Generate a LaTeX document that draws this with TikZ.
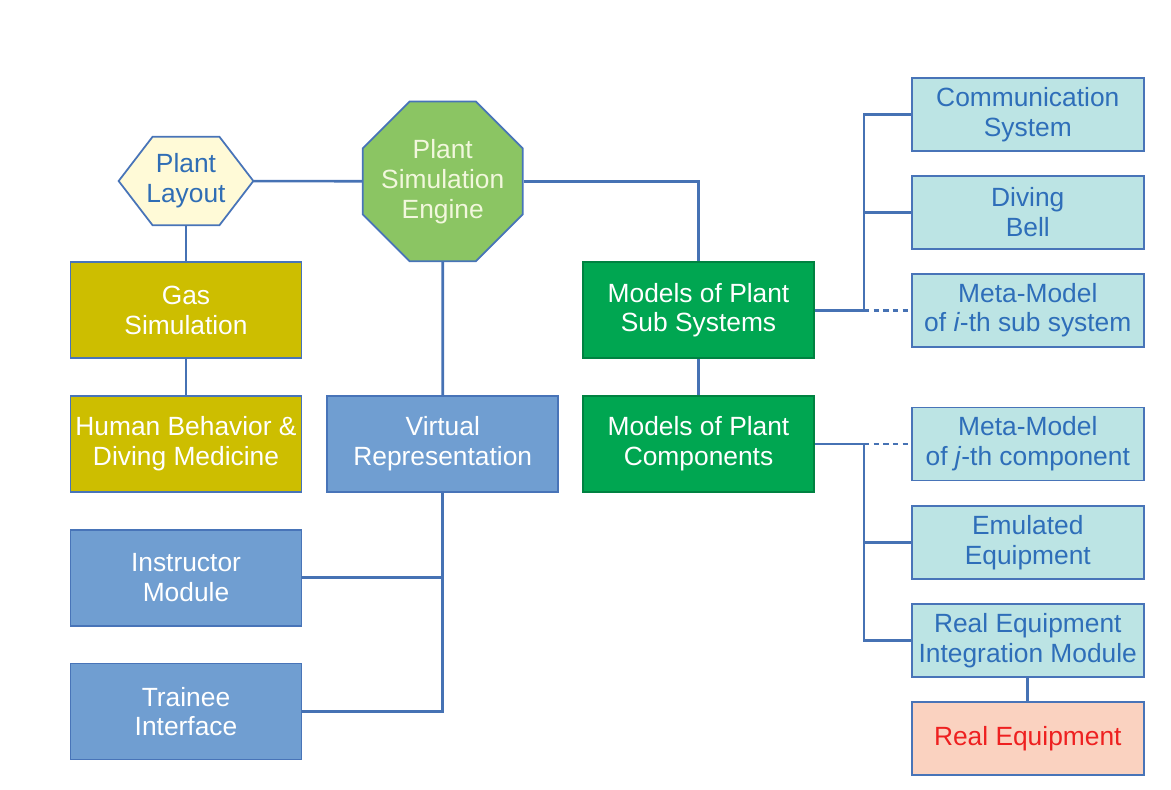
\documentclass[tikz,border=0pt]{standalone}
\usepackage{fontspec}
\setmainfont{Liberation Sans}
\usepackage{tikz}
\usetikzlibrary{positioning,shapes.geometric,calc,backgrounds}
\usepackage{xcolor}
\definecolor{linkblue}{RGB}{70,114,180}
\definecolor{rimblue}{RGB}{72,116,184}
\definecolor{hexfill}{RGB}{255,250,215}
\definecolor{hextext}{RGB}{47,109,181}
\definecolor{engfill}{RGB}{139,197,99}
\definecolor{engtext}{RGB}{242,247,221}
\definecolor{olive}{RGB}{205,190,0}
\definecolor{deepgreen}{RGB}{0,166,81}
\definecolor{deeprim}{RGB}{0,130,65}
\definecolor{boxblue}{RGB}{112,158,209}
\definecolor{cyanfill}{RGB}{188,228,228}
\definecolor{cyantext}{RGB}{46,110,185}
\definecolor{realfill}{RGB}{250,210,192}
\definecolor{realtext}{RGB}{238,32,32}

\begin{document}
\begin{tikzpicture}[
    node distance=0.72cm and 0.48cm,
    txt/.style={font=\fontsize{15}{17}\selectfont, align=center, inner sep=0pt},
    bigbox/.style={txt, draw=rimblue, line width=1pt, text=white,
                   minimum width=4.62cm, minimum height=1.92cm},
    smallbox/.style={txt, draw=rimblue, line width=1pt, fill=cyanfill, text=cyantext,
                     minimum width=4.64cm, minimum height=1.46cm},
    hexrim/.style={draw=rimblue, line width=1pt, fill=hexfill},
    link/.style={draw=linkblue, line width=1.5pt},
    metalink/.style={link, dashed, dash pattern=on 3pt off 2.5pt}
  ]
  \useasboundingbox (0,0) rectangle (23.42,-15.78);

  %% Left column
  \node (layout) [txt, text=hextext, minimum width=2.68cm, minimum height=1.76cm]
        at (3.72,-3.62) {Plant\\Layout};
  \begin{scope}[on background layer]
    \draw[hexrim] (layout.west) -- ([xshift=0.68cm]layout.north west)
        -- ([xshift=-0.68cm]layout.north east) -- (layout.east)
        -- ([xshift=-0.68cm]layout.south east) -- ([xshift=0.68cm]layout.south west) -- cycle;
  \end{scope}
  \node (gas)        [bigbox, fill=olive, below=of layout] {Gas\\Simulation};
  \node (human)      [bigbox, fill=olive, below=of gas] {Human Behavior \&\\Diving Medicine};
  \node (instructor) [bigbox, fill=boxblue, below=of human] {Instructor\\Module};
  \node (trainee)    [bigbox, fill=boxblue, below=of instructor] {Trainee\\Interface};

  %% Middle column
  \node (virtual) [bigbox, fill=boxblue, right=of human] {Virtual\\Representation};
  \node (engine)  [txt, regular polygon, regular polygon sides=8, minimum size=3.46cm,
                   inner sep=-10pt, draw=rimblue, line width=1pt, fill=engfill, text=engtext,
                   above=2.66cm of virtual] {Plant\\Simulation\\Engine};
  \node (comps)   [bigbox, fill=deepgreen, draw=deeprim, right=0.46cm of virtual] {Models of Plant\\Components};
  \node (subsys)  [bigbox, fill=deepgreen, draw=deeprim, above=of comps] {Models of Plant\\Sub Systems};

  %% Right column
  \node (metai) [smallbox, right=1.92cm of subsys] {Meta-Model\\of \textit{i}-th sub system};
  \node (bell)  [smallbox, above=0.46cm of metai] {Diving\\Bell};
  \node (comm)  [smallbox, above=0.46cm of bell] {Communication\\System};
  \node (metaj) [smallbox, right=1.92cm of comps] {Meta-Model\\of \textit{j}-th component};
  \node (emul)  [smallbox, below=0.47cm of metaj] {Emulated\\Equipment};
  \node (reim)  [smallbox, below=0.47cm of emul] {Real Equipment\\Integration Module};
  \node (real)  [smallbox, fill=realfill, text=realtext, below=0.47cm of reim] {Real Equipment};

  %% Connectors
  \draw[link] (layout) -- (engine);
  \draw[link] (engine.east) -| (subsys.north);
  \draw[link] (layout) -- (gas);
  \draw[link] (gas) -- (human);
  \draw[link] (engine) -- (virtual);
  \draw[link] (subsys) -- (comps);
  \draw[link] (virtual.south) |- (trainee.east);
  \draw[link] (instructor.east) -- (instructor.east -| virtual.south);

  \coordinate (hubi) at ($(subsys.east)+(0.98,0)$);
  \coordinate (hubj) at ($(comps.east)+(0.98,0)$);
  \draw[link] (subsys.east) -- (hubi) |- (comm.west);
  \draw[link] (hubi |- bell.west) -- (bell.west);
  \draw[metalink] (hubi) -- (metai.west);
  \draw[link] (comps.east) -- (hubj) |- (reim.west);
  \draw[link] (hubj |- emul.west) -- (emul.west);
  \draw[metalink] (hubj) -- (metaj.west);
  \draw[link] (reim) -- (real);

\end{tikzpicture}
\end{document}
